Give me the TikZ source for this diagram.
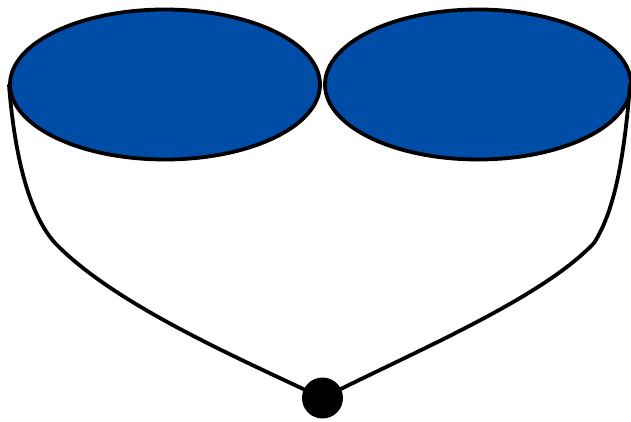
\documentclass[tikz,border=0pt]{standalone}
\usetikzlibrary{shapes.geometric}
\definecolor{bowlblue}{RGB}{0,77,168}
\tikzset{
  bowl/.style={ellipse,draw=black,fill=bowlblue,line width=3.8pt,inner sep=0pt,minimum height=150pt},
  knot/.style={circle,fill=black,inner sep=0pt,minimum size=41pt},
  strap/.style={draw=black,line width=3.8pt,line cap=round}
}
\begin{document}
\begin{tikzpicture}[x=1pt,y=-1pt]
\useasboundingbox (0,0) rectangle (631,422);
\node[bowl,minimum width=310pt] (L) at (165,84.5) {};
\node[bowl,minimum width=306pt] (R) at (478,84.5) {};
\node[knot] (K) at (322.5,398) {};
\coordinate (ls) at (9,85);
\coordinate (lm) at (55,243);
\coordinate (rs) at (630,85);
\coordinate (rm) at (594,243);
\draw[strap] (ls) .. controls (15,160) and (30,215) .. (lm)
  .. controls (110,300) and (220,350) .. (K);
\draw[strap] (rs) .. controls (624,160) and (614,212) .. (rm)
  .. controls (545,295) and (430,345) .. (K);
\end{tikzpicture}
\end{document}
